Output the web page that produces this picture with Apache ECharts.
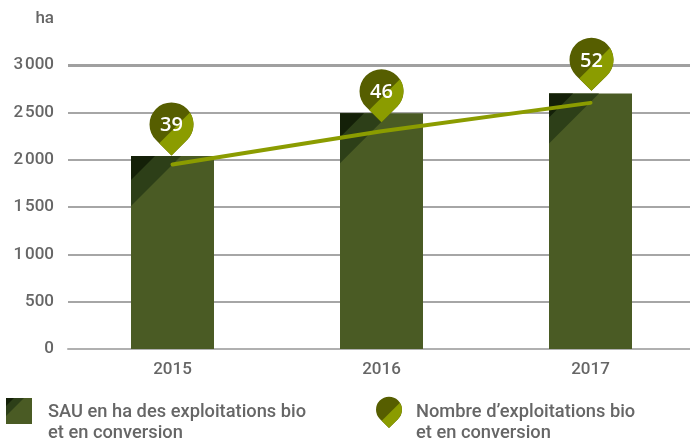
<!DOCTYPE html>
<html>
<head>
<meta charset="utf-8">
<style>
    html, body { margin: 0; padding: 0; background: #fff; }
    #chart { width: 690px; height: 443px; }
</style>
<script src="https://cdn.jsdelivr.net/npm/echarts@6/dist/echarts.min.js"></script>
</head>
<body>
<div id="chart"></div>
<script>
const years = ['2015', '2016', '2017'];
const surface = [2040, 2490, 2700];
const farms = [39, 46, 52];
const yTicks = [0, 500, 1000, 1500, 2000, 2500, 3000];
const legendSurface = 'SAU en ha des exploitations bio\net en conversion';
const legendFarms = 'Nombre d\u2019exploitations bio\net en conversion';

const fontName = 'Roboto';
const textColor = '#666666';
const barWidth = 83;

// pin drawn from its tip (0,0), circle r=22 above it
const pinFull = 'M0,0 L-15.5,-15.4 A22,22 0 1 1 15.5,-15.4 Z';
const pinLight = 'M0,0 L-12.25,-12.25 L18.46,-42.96 A22,22 0 0 1 15.5,-15.4 Z';
const pinOffsetX = [-1, 0, 1];
const pinLift = [9, 9, 12];

var myChart = echarts.init(document.getElementById('chart'));

function renderCorner(params, api) {
    const p = api.coord([api.value(0), api.value(1)]);
    const x = p[0] - barWidth / 2;
    const y = p[1];
    return {
        type: 'group',
        children: [
            { type: 'polygon', shape: { points: [[x, y], [x + 50, y], [x, y + 50]] }, style: { fill: '#2d3f18' } },
            { type: 'polygon', shape: { points: [[x, y], [x + 24, y], [x, y + 24]] }, style: { fill: '#142008' } }
        ]
    };
}

function pinShapes() {
    return [
        { type: 'path', shape: { pathData: pinFull }, style: { fill: '#565e00' } },
        { type: 'path', shape: { pathData: pinLight }, style: { fill: '#8b9c00' } }
    ];
}

function renderPin(params, api) {
    const p = api.coord([api.value(0), api.value(1)]);
    return {
        type: 'group',
        x: p[0] + pinOffsetX[params.dataIndex],
        y: p[1] - pinLift[params.dataIndex],
        children: pinShapes().concat([
            {
                type: 'text',
                x: 0,
                y: -30,
                style: {
                    text: String(api.value(1)),
                    fill: '#fff',
                    font: '600 20px "Open Sans"',
                    align: 'center',
                    verticalAlign: 'middle'
                }
            }
        ])
    };
}

function renderLegendPin() {
    return { type: 'group', x: 389, y: 428, scaleX: 0.59, scaleY: 0.59, children: pinShapes() };
}

let option = {
    animation: false,
    backgroundColor: '#fff',
    textStyle: { fontFamily: fontName },
    grid: { left: 68, width: 627, top: 65, height: 284, outerBoundsMode: 'none' },
    xAxis: {
        type: 'category',
        data: years,
        axisLine: { lineStyle: { color: '#b0b0b0', width: 2 } },
        axisTick: { show: false },
        axisLabel: { color: textColor, fontSize: 17, fontWeight: 500, margin: 12, fontFamily: fontName }
    },
    yAxis: [
        {
            type: 'value',
            min: 0,
            max: 3000,
            interval: 500,
            name: 'ha',
            nameGap: 38,
            nameTextStyle: { color: textColor, fontSize: 17, fontWeight: 500, align: 'right', padding: [0, 14, 0, 0], fontFamily: fontName },
            axisLine: { show: false },
            axisTick: { show: false },
            axisLabel: {
                color: textColor,
                fontSize: 17,
                fontWeight: 500,
                margin: 14,
                padding: [3, 0, 0, 0],
                fontFamily: fontName,
                formatter: function (v) {
                    return yTicks.includes(v) ? String(v).replace(/(\d)(\d{3})$/, '$1\u200a$2') : '';
                }
            },
            splitLine: { lineStyle: { color: '#a6a6a6', width: 2 } }
        },
        { type: 'value', min: 0, max: 60, show: false, splitLine: { show: false } }
    ],
    series: [
        {
            name: 'SAU',
            type: 'bar',
            data: surface,
            barWidth: barWidth,
            z: 2,
            itemStyle: { color: '#4a5b24' },
            markLine: {
                silent: true,
                symbol: 'none',
                label: { show: false },
                lineStyle: { color: '#a0a0a0', width: 3, type: 'solid' },
                data: [{ yAxis: yTicks[yTicks.length - 1] }]
            }
        },
        {
            name: 'Coin',
            type: 'custom',
            data: surface.map((v, i) => [i, v]),
            renderItem: renderCorner,
            z: 3,
            silent: true
        },
        {
            name: 'Exploitations',
            type: 'line',
            yAxisIndex: 1,
            data: farms,
            symbol: 'none',
            z: 4,
            lineStyle: { color: '#8b9c00', width: 4, cap: 'round' }
        },
        {
            name: 'Pins',
            type: 'custom',
            yAxisIndex: 1,
            data: farms.map((v, i) => [i, v]),
            renderItem: renderPin,
            z: 5,
            silent: true
        },
        {
            name: 'LegendPin',
            type: 'custom',
            coordinateSystem: 'none',
            data: [[0]],
            renderItem: renderLegendPin,
            z: 5,
            silent: true
        }
    ],
    graphic: [
        { type: 'rect', shape: { x: 6, y: 398, width: 26, height: 26 }, style: { fill: '#4a5b24' } },
        { type: 'polygon', shape: { points: [[6, 398], [24, 398], [6, 416]] }, style: { fill: '#2d3f18' } },
        { type: 'polygon', shape: { points: [[6, 398], [14, 398], [6, 406]] }, style: { fill: '#142008' } },
        {
            type: 'text', x: 48, y: 402,
            style: { text: legendSurface, fill: textColor, font: '500 18.3px ' + fontName, lineHeight: 21 }
        },
        {
            type: 'text', x: 416, y: 402,
            style: { text: legendFarms, fill: textColor, font: '500 18.3px ' + fontName, lineHeight: 21 }
        }
    ]
};

myChart.setOption(option);
</script>
</body>
</html>
